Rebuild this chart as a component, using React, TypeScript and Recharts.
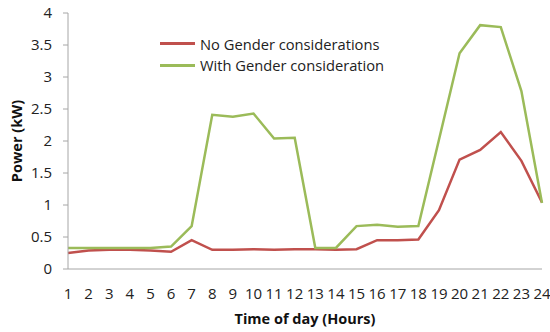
import React from "react";
import { LineChart, Line, XAxis, YAxis, Legend } from "recharts";

const hours = [1, 2, 3, 4, 5, 6, 7, 8, 9, 10, 11, 12, 13, 14, 15, 16, 17, 18, 19, 20, 21, 22, 23, 24];
const noGender = [0.25, 0.29, 0.3, 0.3, 0.29, 0.27, 0.45, 0.3, 0.3, 0.31, 0.3, 0.31, 0.31, 0.3, 0.31, 0.45, 0.45, 0.46, 0.92, 1.71, 1.86, 2.14, 1.69, 1.04];
const withGender = [0.33, 0.33, 0.33, 0.33, 0.33, 0.35, 0.67, 2.41, 2.38, 2.43, 2.04, 2.05, 0.33, 0.33, 0.67, 0.69, 0.66, 0.67, 2.02, 3.37, 3.81, 3.78, 2.78, 1.03];
const yTicks = [0, 0.5, 1, 1.5, 2, 2.5, 3, 3.5, 4];

const data = hours.map((h, i) => ({ hour: h, noGender: noGender[i], withGender: withGender[i] }));

const FONT = "'Open Sans', sans-serif";
const AXIS = "#a6a6a6";

const LegendBox = ({ payload }: any) => (
  <div style={{ fontFamily: FONT, fontSize: 14.7, color: "#222" }}>
    {payload.map((p: any) => (
      <div key={p.value} style={{ display: "flex", alignItems: "center", height: 21.5 }}>
        <span style={{ display: "inline-block", width: 35, height: 3, background: p.color, marginRight: 5 }} />
        {p.value}
      </div>
    ))}
  </div>
);

const YTitle = ({ viewBox }: any) => {
  const cy = viewBox.y + viewBox.height / 2;
  return (
    <text x={16} y={cy} transform={`rotate(-90, 16, ${cy})`} textAnchor="middle" dominantBaseline="central"
      style={{ fontFamily: FONT, fontSize: 14.5, fontWeight: 700, fill: "#111" }}>
      Power (kW)
    </text>
  );
};

export default function App() {
  return (
    <div style={{ position: "absolute", left: 0, top: 0, background: "#fff" }}>
      <LineChart width={550} height={332} data={data} margin={{ top: 13, right: 8, left: 0, bottom: 0 }}>
        <XAxis
          dataKey="hour"
          interval={0}
          tickLine={false}
          tickSize={6}
          tickMargin={13}
          stroke={AXIS}
          tick={{ fill: "#222", fontFamily: FONT, fontSize: 15 }}
          label={{ value: "Time of day (Hours)", position: "insideBottom", offset: 8, style: { fontFamily: FONT, fontSize: 14.5, fontWeight: 700, fill: "#111" } }}
          height={63}
        />
        <YAxis
          domain={[0, 4]}
          ticks={yTicks}
          interval={0}
          width={68}
          tickSize={5}
          tickMargin={11}
          stroke={AXIS}
          tick={{ fill: "#222", fontFamily: FONT, fontSize: 15 }}
          label={{ content: YTitle }}
        />
        <Legend
          layout="vertical"
          verticalAlign="middle"
          align="center"
          wrapperStyle={{ top: 33, left: 160, width: 260 }}
          content={LegendBox}
        />
        <Line dataKey="noGender" name="No Gender considerations" stroke="#c0504d" strokeWidth={2.5} dot={false} isAnimationActive={false} />
        <Line dataKey="withGender" name="With Gender consideration" stroke="#9bbb59" strokeWidth={2.5} dot={false} isAnimationActive={false} />
      </LineChart>
    </div>
  );
}
